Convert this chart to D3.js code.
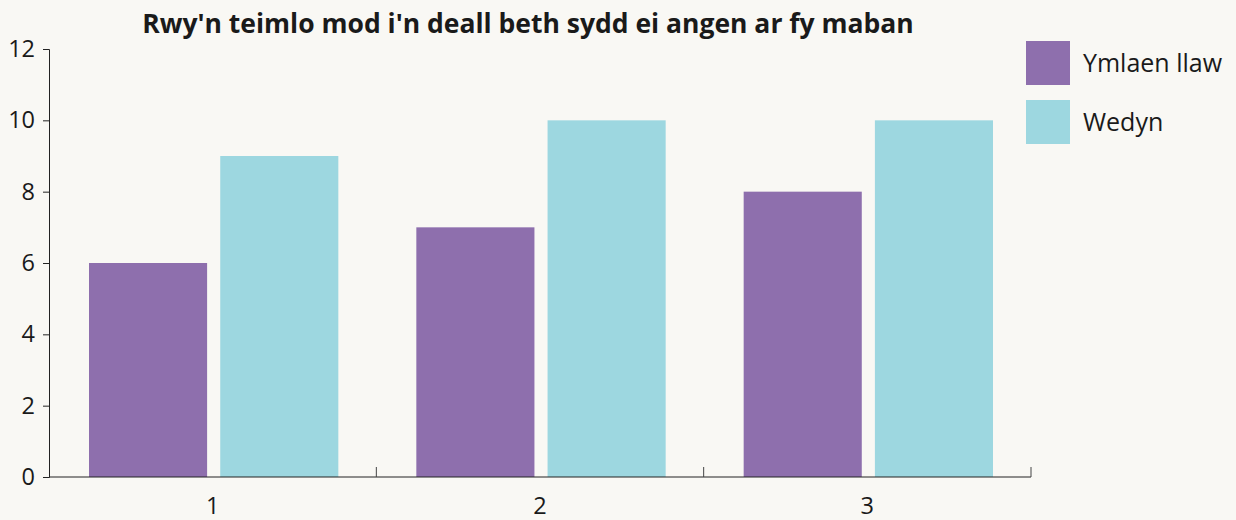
<!DOCTYPE html>
<html>
<head>
<meta charset="utf-8">
<script src="https://cdn.jsdelivr.net/npm/d3@7"></script>
<style>
  body { margin: 0; background: #f9f8f4; }
  text { font-family: "Open Sans", Lato, sans-serif; fill: #1a1a1a; }
  .legend { font-size: 25px; }
  .chart-title { font-size: 26.5px; font-weight: bold; }
</style>
</head>
<body>
<div id="chart"></div>
<script>
var categories = ["1", "2", "3"];
var seriesNames = ["Ymlaen llaw", "Wedyn"];
var before = [6, 7, 8];
var after = [9, 10, 10];
var yTicks = [0, 2, 4, 6, 8, 10, 12];
var colors = ["#8e6fad", "#9dd7e0"];

var margin = {top: 49, right: 205, bottom: 43, left: 49},
    width = 1236 - margin.left - margin.right,
    height = 520 - margin.top - margin.bottom;

var svg = d3.select("#chart")
  .append("svg")
    .attr("width", 1236)
    .attr("height", 520)
  .append("g")
    .attr("transform", "translate(" + margin.left + "," + margin.top + ")");

var data = categories.map(function(c, i) {
  return {cat: c, values: [before[i], after[i]]};
});

var x = d3.scaleBand()
  .domain(categories)
  .range([0, width]);

var xInner = d3.scaleBand()
  .domain(d3.range(seriesNames.length))
  .range([40, x.bandwidth() - 38])
  .paddingInner(0.1);

var y = d3.scaleLinear()
  .domain([0, 12])
  .range([height, 0]);

// bars
var groups = svg.selectAll(".group")
  .data(data)
  .join("g")
    .attr("class", "group")
    .attr("transform", function(d) { return "translate(" + x(d.cat) + ",0)"; });

groups.selectAll("rect")
  .data(function(d) { return d.values; })
  .join("rect")
    .attr("x", function(d, i) { return xInner(i); })
    .attr("y", function(d) { return y(d); })
    .attr("width", xInner.bandwidth())
    .attr("height", function(d) { return height - y(d); })
    .style("fill", function(d, i) { return colors[i]; });

// y axis
svg.append("g")
  .call(d3.axisLeft(y).tickValues(yTicks).tickSize(6).tickPadding(8))
  .call(function(g) { g.selectAll("line, path").attr("stroke", "#222"); });

// x axis: band boundary ticks pointing up
svg.append("g")
  .attr("transform", "translate(0," + height + ")")
  .call(function(g) {
    g.append("line")
      .attr("x1", 0).attr("x2", width)
      .attr("stroke", "#222");
    g.selectAll(".bound")
      .data(categories)
      .join("line")
        .attr("class", "bound")
        .attr("x1", function(d) { return x(d) + x.bandwidth(); })
        .attr("x2", function(d) { return x(d) + x.bandwidth(); })
        .attr("y1", 0).attr("y2", -10)
        .attr("stroke", "#444");
  });

svg.append("g")
  .attr("transform", "translate(0," + height + ")")
  .call(d3.axisBottom(x).tickSize(0).tickPadding(20))
  .call(function(g) { g.select(".domain").remove(); });

svg.selectAll(".tick text")
  .style("font-size", "23.5px")
  .style("font-family", "'Open Sans', sans-serif")
  .attr("fill", "#1a1a1a");

// title
svg.append("text")
  .attr("class", "chart-title")
  .attr("x", width / 2 - 12)
  .attr("y", -16)
  .attr("text-anchor", "middle")
  .text("Rwy'n teimlo mod i'n deall beth sydd ei angen ar fy maban");

// legend
var legend = svg.selectAll(".leg")
  .data(seriesNames)
  .join("g")
    .attr("class", "leg")
    .attr("transform", function(d, i) { return "translate(" + (width - 5) + "," + (-8 + i * 59) + ")"; });

legend.append("rect")
  .attr("width", 44)
  .attr("height", 44)
  .style("fill", function(d, i) { return colors[i]; });

legend.append("text")
  .attr("class", "legend")
  .attr("x", 57)
  .attr("y", 31)
  .text(function(d) { return d; });
</script>
</body>
</html>
